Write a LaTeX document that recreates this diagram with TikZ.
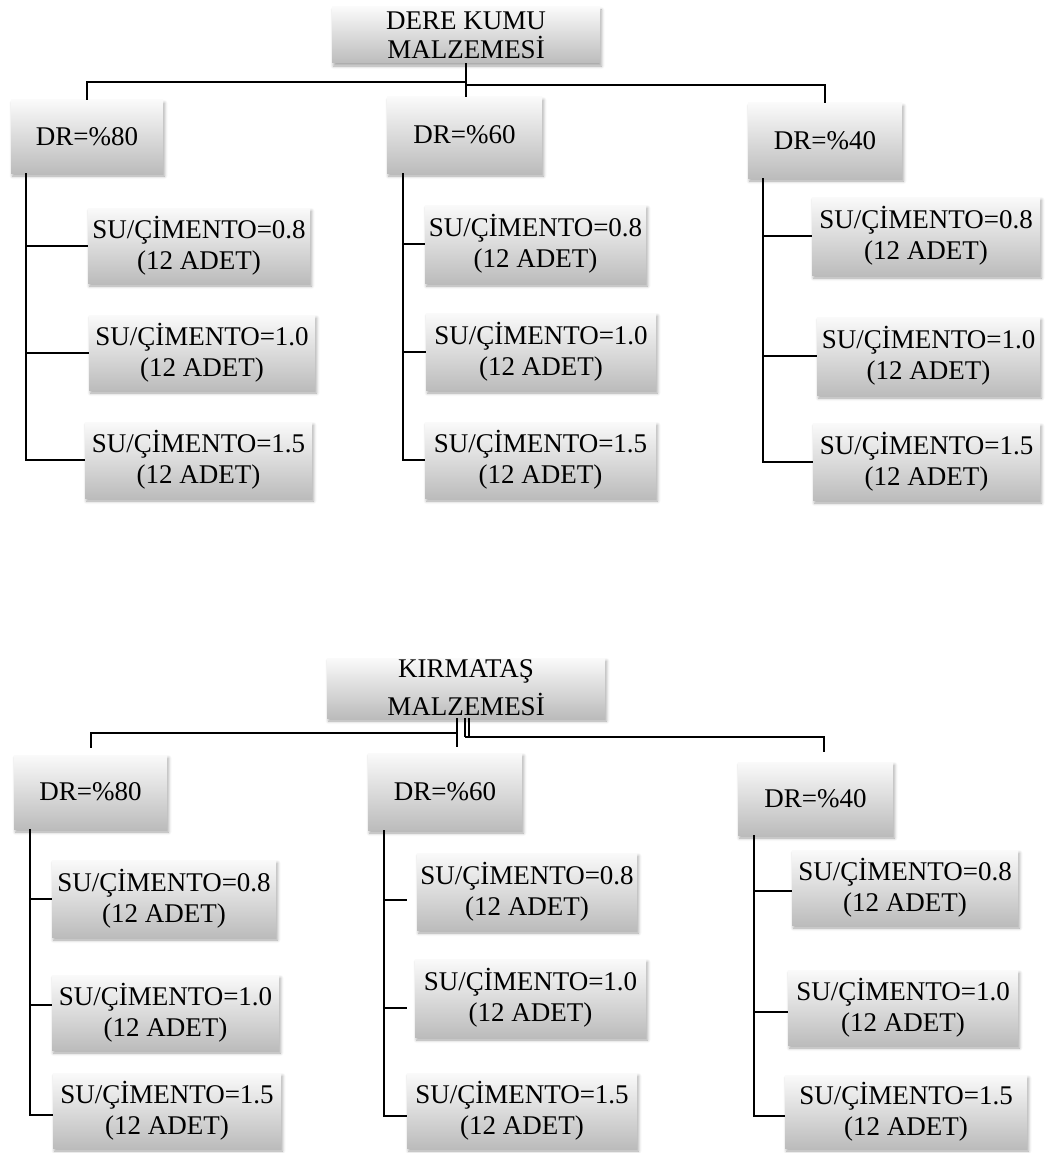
\documentclass[tikz,border=0pt]{standalone}
\usepackage{fontspec}
\setmainfont{Liberation Serif}
\usetikzlibrary{shadows.blur}
\definecolor{gtop}{HTML}{FAFAFA}
\definecolor{gbot}{HTML}{BCBCBC}
\begin{document}
\begin{tikzpicture}[x=1pt,y=-1pt,
  box/.style={rectangle, top color=gtop, bottom color=gbot, draw=none,
    inner xsep=0pt, inner ysep=1pt, align=center,
    font=\fontsize{27}{31}\selectfont,
    blur shadow={shadow xshift=1.5pt, shadow yshift=-3pt, shadow blur radius=3pt, shadow opacity=35}},
  ln/.style={line width=2pt, black}]
\useasboundingbox (0,0) rectangle (1046,1153);

% ---------- top tree ----------
\node[box, minimum width=268pt, minimum height=56pt, font=\fontsize{27}{29}\selectfont] (r1) at (466,35) {DERE KUMU\\MALZEMESİ};
\node[box, minimum width=152pt, minimum height=73pt] (d80) at (87,136.5) {DR=\%80};
\node[box, minimum width=155pt, minimum height=76pt] (d60) at (464.5,135) {DR=\%60};
\node[box, minimum width=154pt, minimum height=75pt] (d40) at (825,140.5) {DR=\%40};

\node[box, minimum width=222pt, minimum height=75pt] (s11) at (199,245.5) {SU/ÇİMENTO=0.8\\(12 ADET)};
\node[box, minimum width=226pt, minimum height=75pt] (s12) at (202,352.5) {SU/ÇİMENTO=1.0\\(12 ADET)};
\node[box, minimum width=227pt, minimum height=76pt] (s13) at (198.5,460) {SU/ÇİMENTO=1.5\\(12 ADET)};

\node[box, minimum width=221pt, minimum height=78pt] (s21) at (535.5,244) {SU/ÇİMENTO=0.8\\(12 ADET)};
\node[box, minimum width=230pt, minimum height=77pt] (s22) at (541,351.5) {SU/ÇİMENTO=1.0\\(12 ADET)};
\node[box, minimum width=231pt, minimum height=76pt] (s23) at (540.5,460) {SU/ÇİMENTO=1.5\\(12 ADET)};

\node[box, minimum width=228pt, minimum height=78pt] (s31) at (926,236) {SU/ÇİMENTO=0.8\\(12 ADET)};
\node[box, minimum width=223pt, minimum height=78pt] (s32) at (928.5,356) {SU/ÇİMENTO=1.0\\(12 ADET)};
\node[box, minimum width=227pt, minimum height=77pt] (s33) at (926.5,461.5) {SU/ÇİMENTO=1.5\\(12 ADET)};

\coordinate (j1) at (466,82);
\coordinate (j2) at (466,85);
\draw[ln] (r1.south) -- (r1.south |- d60.north);
\draw[ln] (j1) -| (d80.north);
\draw[ln] (j2) -| (d40.north);

\draw[ln] ([xshift=15pt]d80.south west) |- (s11.west);
\draw[ln] ([xshift=15pt]d80.south west) |- (s12.west);
\draw[ln] ([xshift=15pt]d80.south west) |- (s13.west);
\draw[ln] ([xshift=16pt]d60.south west) |- (s21.west);
\draw[ln] ([xshift=16pt]d60.south west) |- (s22.west);
\draw[ln] ([xshift=16pt]d60.south west) |- (s23.west);
\draw[ln] ([xshift=15pt]d40.south west) |- (s31.west);
\draw[ln] ([xshift=15pt]d40.south west) |- (s32.west);
\draw[ln] ([xshift=15pt]d40.south west) |- (s33.west);

% ---------- bottom tree ----------
\node[box, minimum width=278pt, minimum height=60pt, font=\fontsize{27}{38}\selectfont] (r2) at (466,688) {KIRMATAŞ\\MALZEMESİ};
\node[box, minimum width=153pt, minimum height=74pt] (e80) at (90.5,792) {DR=\%80};
\node[box, minimum width=154pt, minimum height=77pt] (e60) at (445,791.5) {DR=\%60};
\node[box, minimum width=155pt, minimum height=73pt] (e40) at (815.5,798.5) {DR=\%40};

\node[box, minimum width=224pt, minimum height=77pt] (s41) at (164,898.5) {SU/ÇİMENTO=0.8\\(12 ADET)};
\node[box, minimum width=227pt, minimum height=75pt] (s42) at (165.5,1012.5) {SU/ÇİMENTO=1.0\\(12 ADET)};
\node[box, minimum width=228pt, minimum height=75pt] (s43) at (167,1110.5) {SU/ÇİMENTO=1.5\\(12 ADET)};

\node[box, minimum width=220pt, minimum height=77pt] (s51) at (527,891.5) {SU/ÇİMENTO=0.8\\(12 ADET)};
\node[box, minimum width=231pt, minimum height=78pt] (s52) at (530.5,998) {SU/ÇİMENTO=1.0\\(12 ADET)};
\node[box, minimum width=230pt, minimum height=75pt] (s53) at (522,1110.5) {SU/ÇİMENTO=1.5\\(12 ADET)};

\node[box, minimum width=226pt, minimum height=75pt] (s61) at (905,887.5) {SU/ÇİMENTO=0.8\\(12 ADET)};
\node[box, minimum width=230pt, minimum height=75pt] (s62) at (903,1007.5) {SU/ÇİMENTO=1.0\\(12 ADET)};
\node[box, minimum width=242pt, minimum height=73pt] (s63) at (906,1111.5) {SU/ÇİMENTO=1.5\\(12 ADET)};

\coordinate (b1) at (457,747);
\coordinate (jl) at (457,733);
\coordinate (el) at (91,748);
\coordinate (jr) at (465,737);
\coordinate (er) at (824,752);
\coordinate (c1) at (469,737);
\draw[ln, line width=1.5pt] (r2.south -| b1) -- (b1);
\draw[ln, line width=1.5pt] (r2.south -| jr) -- (jr);
\draw[ln, line width=1.5pt] (r2.south -| c1) -- (c1);
\draw[ln] (jl) -| (el);
\draw[ln] (jr) -| (er);

\draw[ln] ([xshift=16pt]e80.south west) |- (s41.west);
\draw[ln] ([xshift=16pt]e80.south west) |- ([yshift=7.5pt]s42.west);
\draw[ln] ([xshift=16pt]e80.south west) |- ([yshift=-4.5pt]s43.west);
\draw[ln] ([xshift=16pt]e60.south west) |- ([xshift=-10pt,yshift=-8.5pt]s51.west);
\draw[ln] ([xshift=16pt]e60.south west) |- ([xshift=-8pt,yshift=-10pt]s52.west);
\draw[ln] ([xshift=16pt]e60.south west) |- ([yshift=-5.5pt]s53.west);
\draw[ln] ([xshift=16pt]e40.south west) |- ([yshift=-3.5pt]s61.west);
\draw[ln] ([xshift=16pt]e40.south west) |- ([yshift=-4.5pt]s62.west);
\draw[ln] ([xshift=16pt]e40.south west) |- ([yshift=-4.5pt]s63.west);
\end{tikzpicture}
\end{document}
